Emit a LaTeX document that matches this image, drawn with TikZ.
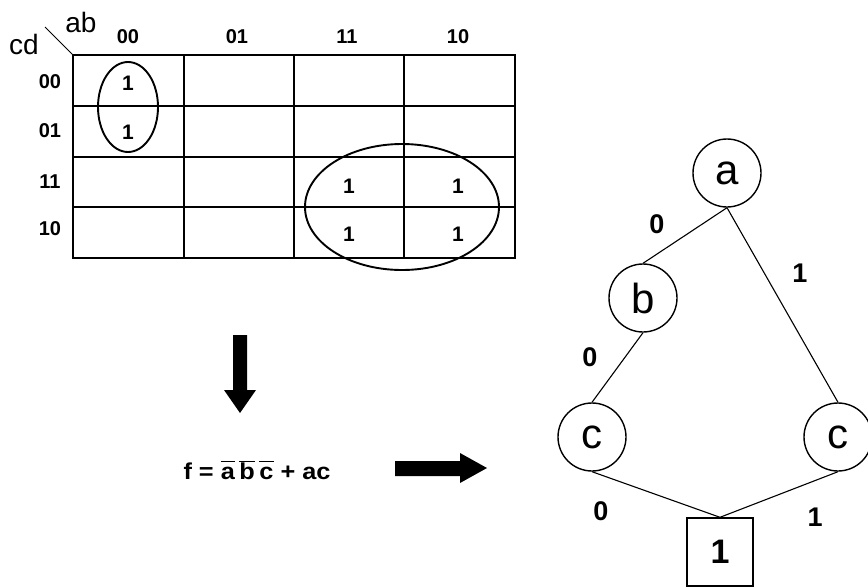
\documentclass[tikz,border=0pt]{standalone}
\usepackage{fontspec}
\setmainfont{Liberation Sans}
\begin{document}
\begin{tikzpicture}[x=1pt,y=-1pt,
  gridline/.style={line width=1.4pt},
  loop/.style={line width=1.9pt},
  hdr/.style={font=\fontsize{20}{22}\selectfont\bfseries, inner sep=0pt},
  one/.style={font=\fontsize{21}{23}\selectfont\bfseries, inner sep=0pt},
  var/.style={circle, draw, line width=1.4pt, minimum size=68pt, inner sep=0pt, font=\fontsize{42}{44}\selectfont},
  term/.style={rectangle, draw, line width=1.4pt, minimum width=66pt, minimum height=68pt, inner sep=0pt, font=\fontsize{34}{36}\selectfont\bfseries},
  edge/.style={line width=1.1pt},
  elab/.style={font=\fontsize{27}{29}\selectfont\bfseries, inner sep=0pt},
  blockarrow/.style={fill=black}
]
\useasboundingbox (0,0) rectangle (868,587);
% K-map grid
\draw[gridline] (73,55) rectangle (515,258);
\foreach \x in {184,294,404} \draw[gridline] (\x,55) -- (\x,258);
\foreach \y in {106,157,207} \draw[gridline] (73,\y) -- (515,\y);
\draw[line width=0.8pt] (45,27) -- (73,55);
\node[font=\fontsize{28}{30}\selectfont, inner sep=0pt] (ab) at (81,22) {ab};
\node[font=\fontsize{28}{30}\selectfont, inner sep=0pt] (cd) at (24,44) {cd};
% column headers
\node[hdr] (c00) at (128,37) {00};
\node[hdr] (c01) at (237,37) {01};
\node[hdr] (c11) at (347,37) {11};
\node[hdr] (c10) at (458,37) {10};
% row headers
\node[hdr] (r00) at (50,82) {00};
\node[hdr] (r01) at (50,131) {01};
\node[hdr] (r11) at (50,182) {11};
\node[hdr] (r10) at (50,229) {10};
% ones
\node[one] (m0) at (128,83) {1};
\node[one] (m1) at (128,132) {1};
\node[one] (m2) at (349,186) {1};
\node[one] (m3) at (458,186) {1};
\node[one] (m4) at (349,234) {1};
\node[one] (m5) at (458,234) {1};
% loops
\draw[loop] (128,107) ellipse [x radius=30, y radius=45];
\draw[loop] (402,207) ellipse [x radius=97, y radius=63];
% down arrow
\fill[blockarrow] (233,335) -- (247,335) -- (247,390) -- (256,390) -- (240,413) -- (224,390) -- (233,390) -- cycle;
% formula
\node[inner sep=0pt, font=\fontsize{23}{25}\selectfont\bfseries] (f) at (257,470)
  {\scalebox{1.1}[1]{f = $\overline{\mbox{a}\vphantom{b}}\,\overline{\mbox{b}}\,\overline{\mbox{c}\vphantom{b}}$ + ac}};
% right arrow
\fill[blockarrow] (395,461) -- (460,461) -- (460,453) -- (487,468) -- (460,483) -- (460,476) -- (395,476) -- cycle;
% BDD
\node[var] (a) at (727,173) {a};
\node[var] (b) at (643,298) {b};
\node[var] (cl) at (592,437) {c};
\node[var] (cr) at (838,437) {c};
\node[term] (t) at (720,552) {1};
\draw[edge] (a.south) -- (b.north);
\draw[edge] (a.south) -- (cr.north);
\draw[edge] (b.south) -- (cl.north);
\draw[edge] (cl.south) -- (t.north);
\draw[edge] (cr.south) -- (t.north);
\node[elab] (l1) at (657,224) {0};
\node[elab] (l2) at (800,273) {1};
\node[elab] (l3) at (590,357) {0};
\node[elab] (l4) at (601,511) {0};
\node[elab] (l5) at (815,517) {1};
\end{tikzpicture}
\end{document}
